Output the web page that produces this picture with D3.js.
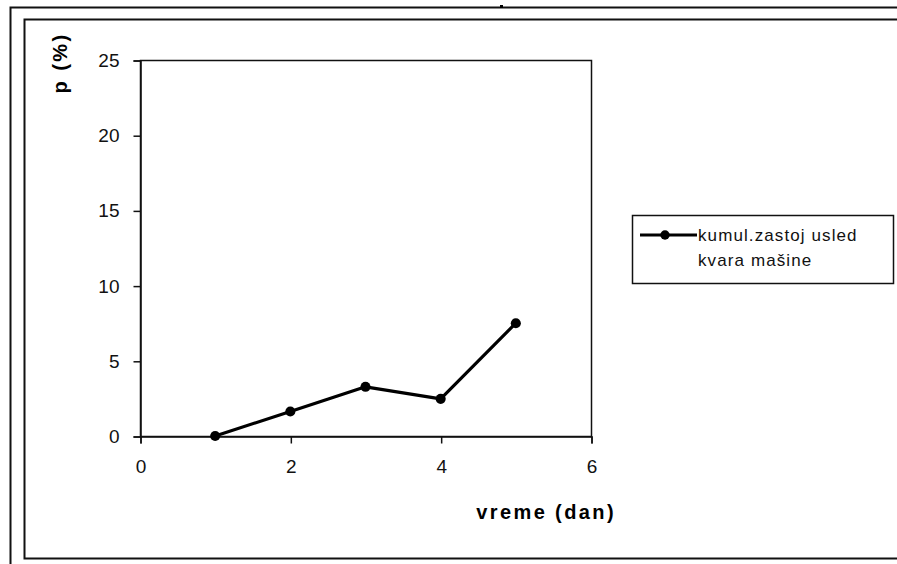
<!DOCTYPE html>
<html>
<head>
<meta charset="utf-8">
<script src="https://cdn.jsdelivr.net/npm/d3@7"></script>
<style>
  html, body { margin: 0; padding: 0; background: #fff; }
  svg { display: block; font-family: "Liberation Sans", Arial, sans-serif; }
</style>
</head>
<body>
<svg id="chart" width="897" height="564"></svg>
<script>
// Cumulative downtime due to machine failure, per day
const days = [1, 2, 3, 4, 5];
const downtimePct = [0, 1.63, 3.27, 2.47, 7.5];
const xTicks = [0, 2, 4, 6];
const yTicks = [0, 5, 10, 15, 20, 25];
const seriesName = ["kumul.zastoj usled", "kvara mašine"];
const xTitle = "vreme (dan)";
const yTitle = "p (%)";

const svg = d3.select("#chart");
const W = 897, H = 564;

// Double frame around the chart area
svg.append("path")
  .attr("d", `M10.5,${H} V7.5 H${W}`)
  .attr("fill", "none").attr("stroke", "#111").attr("stroke-width", 2);
svg.append("path")
  .attr("d", `M${W},19.5 H24.5 V558.5 H${W}`)
  .attr("fill", "none").attr("stroke", "#111").attr("stroke-width", 2);
svg.append("rect").attr("x", 500).attr("y", 5).attr("width", 3).attr("height", 3).attr("fill", "#000");

const plot = { left: 140, right: 591, top: 60, bottom: 436 };
const x = d3.scaleLinear().domain([0, 6]).range([plot.left, plot.right]);
const y = d3.scaleLinear().domain([0, 25]).range([plot.bottom, plot.top]);

// Plot area border
svg.append("rect")
  .attr("x", plot.left + 0.5).attr("y", plot.top + 0.5)
  .attr("width", plot.right - plot.left).attr("height", plot.bottom - plot.top)
  .attr("fill", "none").attr("stroke", "#111").attr("stroke-width", 1.5);

const axisFont = g => g.selectAll("text")
  .attr("font-size", 19).attr("fill", "#111")
  .attr("font-family", "Liberation Sans, Arial, sans-serif");

const gx = svg.append("g")
  .attr("transform", `translate(0.5,${plot.bottom + 0.5})`)
  .call(d3.axisBottom(x).tickValues(xTicks).tickSize(7).tickPadding(16).tickFormat(d3.format("d")))
  .call(axisFont);
gx.select(".domain").attr("stroke", "#111").attr("stroke-width", 1.5);
gx.selectAll(".tick line").attr("stroke", "#111").attr("stroke-width", 1.5);

const gy = svg.append("g")
  .attr("transform", `translate(${plot.left + 0.5},0.5)`)
  .call(d3.axisLeft(y).tickValues(yTicks).tickSize(7).tickPadding(14).tickFormat(d3.format("d")))
  .call(axisFont);
gy.select(".domain").attr("stroke", "#111").attr("stroke-width", 1.5);
gy.selectAll(".tick line").attr("stroke", "#111").attr("stroke-width", 1.5);

// Axis titles
svg.append("text")
  .attr("x", 616).attr("y", 519)
  .attr("text-anchor", "end")
  .attr("font-size", 20).attr("font-weight", "bold").attr("letter-spacing", 2.4).attr("fill", "#000")
  .text(xTitle);
svg.append("text")
  .attr("transform", "translate(67,63) rotate(-90)")
  .attr("text-anchor", "middle")
  .attr("font-size", 20).attr("font-weight", "bold").attr("letter-spacing", 2.4).attr("fill", "#000")
  .text(yTitle);

// Series line and markers
const pts = days.map((d, i) => [d, downtimePct[i]]);
svg.append("path")
  .datum(pts)
  .attr("d", d3.line().x(d => x(d[0])).y(d => y(d[1])))
  .attr("fill", "none").attr("stroke", "#000").attr("stroke-width", 3.2)
  .attr("stroke-linejoin", "round");
svg.selectAll(".pt").data(pts).join("path")
  .attr("class", "pt")
  .attr("transform", d => `translate(${x(d[0])},${y(d[1])})`)
  .attr("d", d3.symbol(d3.symbolCircle, 80))
  .attr("fill", "#000");

// Legend
const lg = svg.append("g");
lg.append("rect")
  .attr("x", 632.5).attr("y", 215.5).attr("width", 261).attr("height", 68)
  .attr("fill", "#fff").attr("stroke", "#111").attr("stroke-width", 1.5);
lg.append("line")
  .attr("x1", 640).attr("x2", 697).attr("y1", 235).attr("y2", 235)
  .attr("stroke", "#000").attr("stroke-width", 3);
lg.append("path")
  .attr("transform", "translate(665,235)")
  .attr("d", d3.symbol(d3.symbolCircle, 70))
  .attr("fill", "#000");
lg.selectAll(".lt").data(seriesName).join("text")
  .attr("class", "lt")
  .attr("x", 698).attr("y", (d, i) => 241 + i * 25)
  .attr("font-size", 17).attr("letter-spacing", 1.1).attr("fill", "#111")
  .text(d => d);
</script>
</body>
</html>
